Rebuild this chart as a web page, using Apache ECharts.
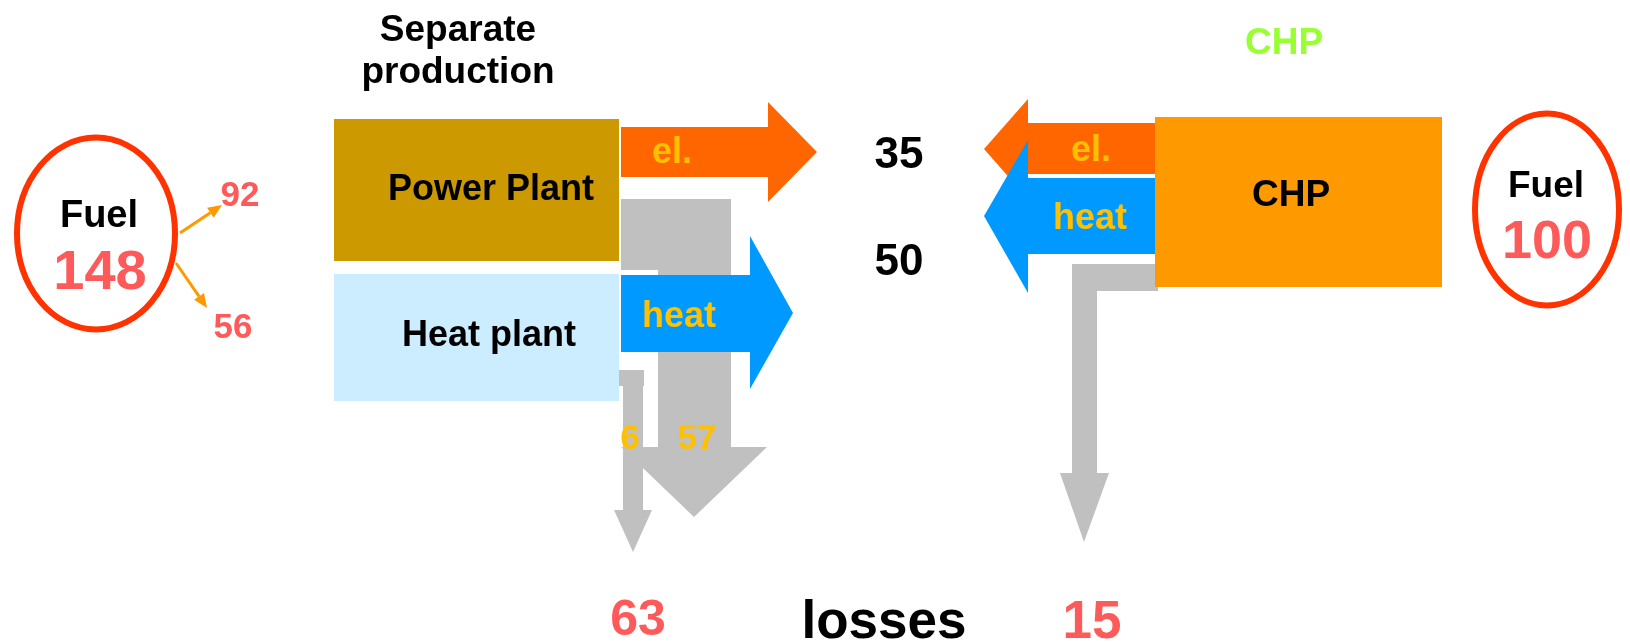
<!DOCTYPE html>
<html>
<head>
<meta charset="utf-8">
<script src="https://cdn.jsdelivr.net/npm/echarts@6/dist/echarts.min.js"></script>
<style>
html, body { margin: 0; padding: 0; background: #fff; }
#main { width: 1630px; height: 642px; }
</style>
</head>
<body>
<div id="main"></div>
<script>
// values
var fuelIn = [148, 100];        // separate production, CHP
var fuelSplit = [92, 56];       // to power plant, to heat plant
var products = [35, 50];        // electricity, heat
var sepLosses = [6, 57];        // heat plant, power plant
var lossTotals = [63, 15];      // separate production, CHP
var plantNames = ['Power Plant', 'Heat plant', 'CHP'];
var flowNames = ['el.', 'heat'];
var titles = ['Separate', 'production', 'CHP', 'losses', 'Fuel'];

var FONT = '"Liberation Sans", Arial, Helvetica, sans-serif';
var col = {
	el: '#FF6600',
	heat: '#0099FF',
	loss: '#C0C0C0',
	power: '#CC9900',
	heatPlant: '#CCECFF',
	chp: '#FF9900',
	ring: '#FF3300',
	num: '#FF5A5A',
	flowText: '#FFC000',
	green: '#99FF33',
	link: '#FF9900'
};

// layout of the diagram (in axis units, 1 unit = 1 px)
function rect(x1, y1, x2, y2) {
	return [[x1, y1], [x2, y1], [x2, y2], [x1, y2]];
}
var shapes = [
	// power plant losses (L shape + big head)
	{ kind: 'poly', color: col.loss, points: [[621, 199], [731, 199], [731, 447], [767, 447], [694, 517], [621, 447], [658, 447], [658, 270], [621, 270]] },
	{ kind: 'poly', color: col.power, points: rect(334, 119, 619, 261) },
	{ kind: 'poly', color: col.heatPlant, points: rect(334, 274, 619, 401) },
	{ kind: 'poly', color: col.el, points: [[621, 127], [768, 127], [768, 102], [817, 152], [768, 202], [768, 177], [621, 177]] },
	{ kind: 'poly', color: col.heat, points: [[621, 275], [750, 275], [750, 236], [793, 313], [750, 389], [750, 352], [621, 352]] },
	// heat plant losses (thin arrow)
	{ kind: 'poly', color: col.loss, points: rect(619, 370, 644, 386) },
	{ kind: 'poly', color: col.loss, points: [[623, 386], [643, 386], [643, 510], [652, 510], [633, 552], [614, 510], [623, 510]] },
	// CHP side
	{ kind: 'poly', color: col.loss, points: [[1158, 264], [1158, 291], [1097, 291], [1097, 473], [1109, 473], [1084, 542], [1060, 473], [1072, 473], [1072, 264]] },
	{ kind: 'poly', color: col.el, points: [[1156, 123], [1028, 123], [1028, 99], [984, 149], [1028, 199], [1028, 174], [1156, 174]] },
	{ kind: 'poly', color: col.heat, points: [[1156, 178], [1028, 178], [1028, 140], [984, 216], [1028, 293], [1028, 254], [1156, 254]] },
	{ kind: 'poly', color: col.chp, points: rect(1155, 117, 1442, 287) },
	// fuel circles and split arrows
	{ kind: 'ellipse', cx: 96, cy: 233.5, rx: 79, ry: 96 },
	{ kind: 'ellipse', cx: 1547, cy: 209.5, rx: 72, ry: 96 },
	{ kind: 'link', from: [180, 233], to: [222, 205] },
	{ kind: 'link', from: [176, 263], to: [207, 308] },
	// texts (y = middle of the capitals)
	{ kind: 'text', x: 458, y: 26.5, size: 37, color: '#000', text: titles[0] },
	{ kind: 'text', x: 458, y: 69, size: 37, color: '#000', text: titles[1] },
	{ kind: 'text', x: 1284, y: 40, size: 37, color: col.green, text: titles[2] },
	{ kind: 'text', x: 491, y: 186, size: 36, color: '#000', text: plantNames[0] },
	{ kind: 'text', x: 489, y: 332, size: 36, color: '#000', text: plantNames[1] },
	{ kind: 'text', x: 1291, y: 191.5, size: 37, color: '#000', text: plantNames[2] },
	{ kind: 'text', x: 672, y: 149.5, size: 36, color: col.flowText, text: flowNames[0] },
	{ kind: 'text', x: 679, y: 313, size: 36, color: col.flowText, text: flowNames[1] },
	{ kind: 'text', x: 1091, y: 147, size: 36, color: col.flowText, text: flowNames[0] },
	{ kind: 'text', x: 1090, y: 215, size: 36, color: col.flowText, text: flowNames[1] },
	{ kind: 'text', x: 899, y: 151, size: 44, color: '#000', text: String(products[0]) },
	{ kind: 'text', x: 899, y: 258, size: 44, color: '#000', text: String(products[1]) },
	{ kind: 'text', x: 99, y: 212.5, size: 38, color: '#000', text: titles[4] },
	{ kind: 'text', x: 100, y: 267.5, size: 56, color: col.num, text: String(fuelIn[0]) },
	{ kind: 'text', x: 240, y: 192.5, size: 35, color: col.num, text: String(fuelSplit[0]) },
	{ kind: 'text', x: 233, y: 324.5, size: 35, color: col.num, text: String(fuelSplit[1]) },
	{ kind: 'text', x: 1546, y: 183, size: 37, color: '#000', text: titles[4] },
	{ kind: 'text', x: 1547, y: 237.5, size: 54, color: col.num, text: String(fuelIn[1]) },
	{ kind: 'text', x: 630, y: 435, size: 35, color: col.flowText, text: String(sepLosses[0]) },
	{ kind: 'text', x: 697, y: 435, size: 35, color: col.flowText, text: String(sepLosses[1]) },
	{ kind: 'text', x: 638, y: 615.5, size: 50, color: col.num, text: String(lossTotals[0]) },
	{ kind: 'text', x: 884, y: 618, size: 53, color: '#000', text: titles[3] },
	{ kind: 'text', x: 1092, y: 617.5, size: 53, color: col.num, text: String(lossTotals[1]) }
];

function renderItem(params, api) {
	var s = shapes[params.dataIndex];
	if (s.kind == 'poly') {
		return {
			type: 'polygon',
			shape: { points: s.points.map(function(p) { return api.coord(p); }) },
			style: { fill: s.color }
		};
	}
	if (s.kind == 'ellipse') {
		var c = api.coord([s.cx, s.cy]);
		var r = api.size([s.rx, s.ry]);
		return {
			type: 'ellipse',
			shape: { cx: c[0], cy: c[1], rx: r[0], ry: r[1] },
			style: { fill: 'none', stroke: col.ring, lineWidth: 6 }
		};
	}
	if (s.kind == 'link') {
		var a = api.coord(s.from);
		var b = api.coord(s.to);
		var dx = b[0] - a[0], dy = b[1] - a[1];
		var len = Math.sqrt(dx * dx + dy * dy);
		var ux = dx / len, uy = dy / len;
		var hl = 14, hw = 6;
		var bx = b[0] - ux * hl, by = b[1] - uy * hl;
		return {
			type: 'group',
			children: [{
				type: 'line',
				shape: { x1: a[0], y1: a[1], x2: bx, y2: by },
				style: { stroke: col.link, lineWidth: 3 }
			}, {
				type: 'polygon',
				shape: { points: [b, [bx - uy * hw, by + ux * hw], [bx + uy * hw, by - ux * hw]] },
				style: { fill: col.link }
			}]
		};
	}
	var p = api.coord([s.x, s.y]);
	return {
		type: 'text',
		x: p[0],
		y: p[1] + s.size * 0.11, // canvas middle sits a bit above the capitals' middle
		style: {
			text: s.text,
			fill: s.color,
			font: 'bold ' + s.size + 'px ' + FONT,
			align: 'center',
			verticalAlign: 'middle'
		}
	};
}

var chart = echarts.init(document.getElementById('main'));
chart.setOption({
	animation: false,
	backgroundColor: '#fff',
	grid: { left: 0, right: 0, top: 0, bottom: 0 },
	xAxis: { type: 'value', min: 0, max: 1630, show: false },
	yAxis: { type: 'value', min: 0, max: 642, inverse: true, show: false },
	series: [{
		type: 'custom',
		renderItem: renderItem,
		clip: false,
		data: shapes.map(function(s, i) { return [0, 0]; })
	}]
});
</script>
</body>
</html>
